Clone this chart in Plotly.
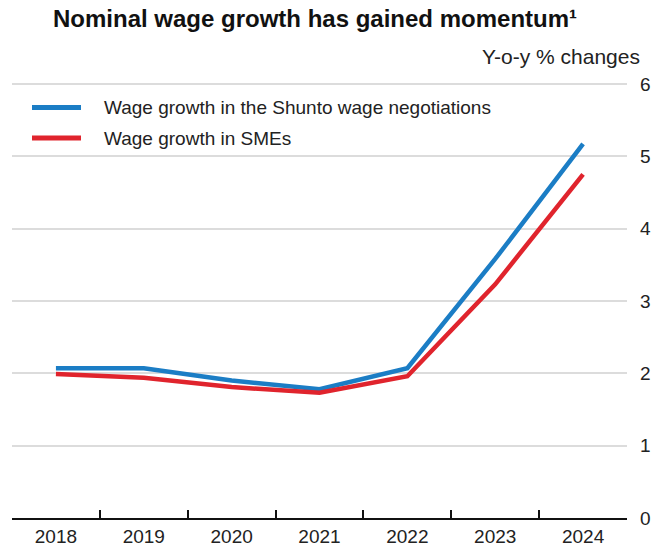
import plotly.graph_objects as go

years = ["2018", "2019", "2020", "2021", "2022", "2023", "2024"]
shunto = [2.07, 2.07, 1.90, 1.78, 2.07, 3.58, 5.17]
smes = [1.99, 1.94, 1.81, 1.73, 1.96, 3.23, 4.75]
series_names = ["Wage growth in the Shunto wage negotiations", "Wage growth in SMEs"]

BLUE = "#1b7dc5"
RED = "#e0242d"
FONT = "Liberation Sans, Arial, sans-serif"
TEXT = "#222"

# plot area in pixels: x 12..627, y 81..518
L, R, T, B = 12, 25, 81, 31
W, H = 652, 549
PW, PH = W - L - R, H - T - B


def px_x(px):
    return (px - L) / PW


def px_y(py):
    return (H - B - py) / PH


fig = go.Figure()
for name, vals, col in [(series_names[0], shunto, BLUE), (series_names[1], smes, RED)]:
    fig.add_trace(go.Scatter(x=years, y=vals, mode="lines", name=name,
                             line=dict(color=col, width=4.5), showlegend=False))

fig.update_layout(
    width=W, height=H,
    margin=dict(l=L, r=R, t=T, b=B),
    paper_bgcolor="white", plot_bgcolor="white",
    font=dict(family=FONT, size=19, color=TEXT),
    title=dict(text="<b>Nominal wage growth has gained momentum¹</b>",
               x=315 / W, xanchor="center", y=1 - 19 / H, yanchor="middle",
               font=dict(size=24, color="#111")),
    showlegend=False,
)

fig.update_xaxes(
    type="category", range=[-0.5, 6.5],
    tickson="boundaries", ticks="inside", ticklen=8, tickwidth=1.6,
    tickcolor="#111", showline=True, linecolor="#111", linewidth=1.6,
    showgrid=False, tickfont=dict(size=19, color=TEXT), automargin=False,
)
fig.update_yaxes(
    range=[0, 6.04], tickvals=[0, 1, 2, 3, 4, 5, 6], side="right",
    showgrid=True, gridcolor="#dcdcdc", gridwidth=1.6,
    zeroline=False, showline=False, ticks="",
    tickfont=dict(size=19, color=TEXT), ticklabelstandoff=12,
    automargin=False,
)

# legend drawn as line samples with labels
legend_rows = [(107.5, BLUE, series_names[0]), (138, RED, series_names[1])]
for py, col, label in legend_rows:
    fig.add_shape(type="line", xref="paper", yref="paper",
                  x0=px_x(32), x1=px_x(81), y0=px_y(py), y1=px_y(py),
                  line=dict(color=col, width=5))
    fig.add_annotation(text=label, xref="paper", yref="paper",
                       x=px_x(102), y=px_y(py), xanchor="left", yanchor="middle",
                       showarrow=False, font=dict(size=19, color=TEXT))

fig.add_annotation(text="Y-o-y % changes", xref="paper", yref="paper",
                   x=px_x(642), y=px_y(56), xanchor="right", yanchor="middle",
                   showarrow=False, font=dict(size=21, color=TEXT))

fig.write_html("out.html")
